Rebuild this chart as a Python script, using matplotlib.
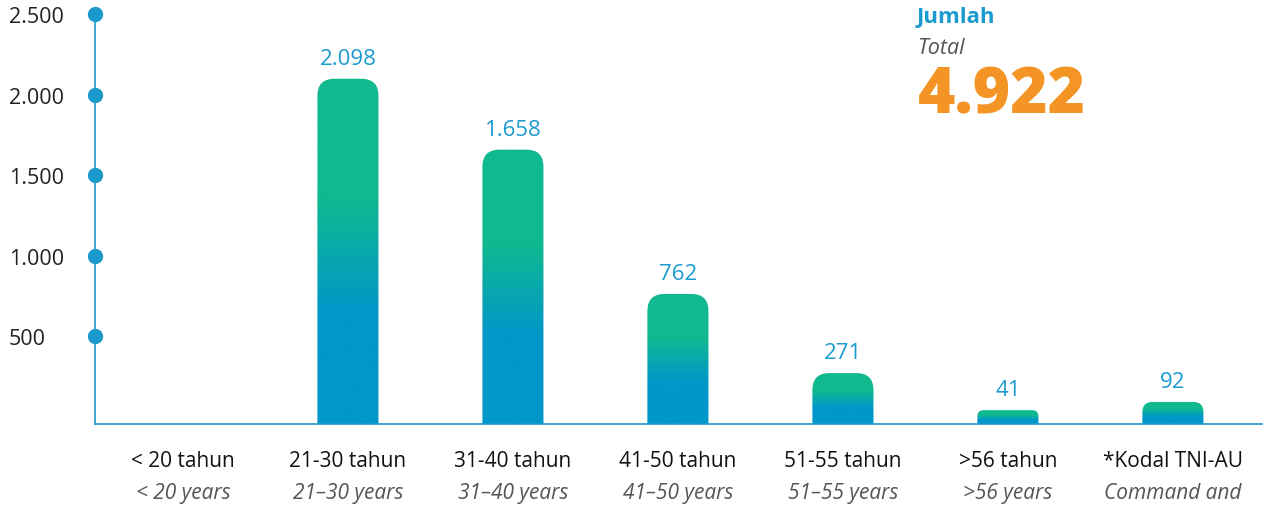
import matplotlib
matplotlib.use("Agg")
import matplotlib.pyplot as plt
import numpy as np
from matplotlib.colors import LinearSegmentedColormap
from matplotlib.patches import FancyBboxPatch

# ---- data ----
categories_id = ["< 20 tahun", "21-30 tahun", "31-40 tahun", "41-50 tahun",
                 "51-55 tahun", ">56 tahun", "*Kodal TNI-AU"]
categories_en = ["< 20 years", "21–30 years", "31–40 years", "41–50 years",
                 "51–55 years", ">56 years", "Command and"]
values = [0, 2098, 1658, 762, 271, 41, 92]
value_labels = ["", "2.098", "1.658", "762", "271", "41", "92"]
ytick_values = [500, 1000, 1500, 2000, 2500]
ytick_labels = ["500", "1.000", "1.500", "2.000", "2.500"]
total_title = "Jumlah"
total_subtitle = "Total"
total_value = "4.922"

# ---- style ----
BLUE = "#0098C8"
GREEN = "#11B98F"
AXIS = "#1A9ACB"
LABEL_BLUE = "#1B9AD0"
ORANGE = "#F39425"
FONT = "Open Sans"
plt.rcParams["font.family"] = [FONT, "DejaVu Sans"]

W, H = 1266, 506
fig = plt.figure(figsize=(W / 100, H / 100), dpi=100)
ax_l, ax_r, ax_t, ax_b = 95, 1262, 15, 425
ax = fig.add_axes([ax_l / W, (H - ax_b) / H, (ax_r - ax_l) / W, (ax_b - ax_t) / H])

x = np.arange(len(categories_id))
xlim = (-0.533, 6.54)
ylim = (-45, 2500)
ax.set_xlim(*xlim)
ax.set_ylim(*ylim)

px_per_x = (ax_r - ax_l) / (xlim[1] - xlim[0])
px_per_y = (ax_b - ax_t) / (ylim[1] - ylim[0])
aspect = px_per_x / px_per_y

cmap = LinearSegmentedColormap.from_list(
    "g", [(0, BLUE), (0.33, BLUE), (0.66, GREEN), (1, GREEN)])
grad = np.linspace(0, 1, 256).reshape(-1, 1)

bar_w = 0.37
base = ylim[0]
for xi, v, lab in zip(x, values, value_labels):
    if v <= 0:
        continue
    bar_px_h = (v - base) * px_per_y
    r_px = min(17, bar_px_h * 0.45)
    r = r_px / px_per_x
    im = ax.imshow(grad, cmap=cmap, origin="lower", aspect="auto",
                   extent=[xi - bar_w / 2, xi + bar_w / 2, base, v],
                   interpolation="bilinear", zorder=2)
    clip = FancyBboxPatch((xi - bar_w / 2, base - 400), bar_w, v - base + 400,
                          boxstyle=f"round,pad=0,rounding_size={r}",
                          mutation_aspect=aspect, transform=ax.transData,
                          facecolor="none", edgecolor="none")
    ax.add_patch(clip)
    im.set_clip_path(clip)
    ax.annotate(lab, (xi, v), xytext=(0, 7), textcoords="offset points",
                ha="center", va="bottom", color=LABEL_BLUE, fontsize=16)

ax.set_xlim(*xlim)
ax.set_ylim(*ylim)

# axes styling
for s in ["top", "right"]:
    ax.spines[s].set_visible(False)
for s in ["left", "bottom"]:
    ax.spines[s].set_color(AXIS)
    ax.spines[s].set_linewidth(1.2)
    ax.spines[s].set_zorder(3)
ax.set_xticks([])
ax.set_yticks(ytick_values)
ax.set_yticklabels(ytick_labels, fontsize=15.5, color="#222222", ha="left")
ax.tick_params(axis="y", length=0, pad=62)
ax.plot([0] * len(ytick_values), ytick_values, "o", color=AXIS, markersize=10,
        transform=ax.get_yaxis_transform(), clip_on=False, zorder=4)

# category labels
tr = ax.get_xaxis_transform()
for xi, a, b in zip(x, categories_id, categories_en):
    ax.text(xi, -37 / 410, a, transform=tr, ha="center", va="center",
            fontsize=15, color="#111111", fontweight="medium")
    ax.text(xi, -69 / 410, b, transform=tr, ha="center", va="center",
            fontsize=15, color="#555555", style="italic")

# total annotation
fig.text(917 / W, 1 - 18 / H, total_title, color=LABEL_BLUE, fontsize=16,
         fontweight="bold", ha="left", va="center")
fig.text(917 / W, 1 - 49 / H, total_subtitle, color="#555555", fontsize=15.5,
         style="italic", ha="left", va="center")
fig.text(918 / W, 1 - 97 / H, total_value, color=ORANGE, fontsize=46,
         fontweight="heavy", ha="left", va="center")

fig.savefig("out.png", dpi=100)
